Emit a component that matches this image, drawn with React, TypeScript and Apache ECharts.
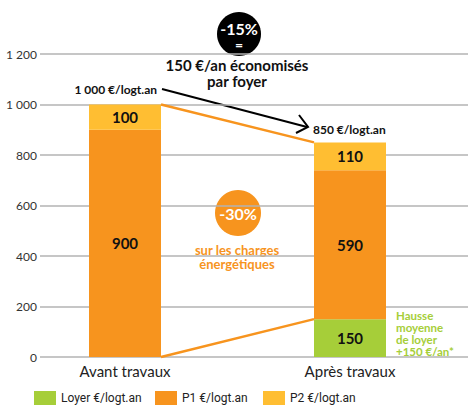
import React, { useEffect, useRef } from "react";
import * as echarts from "echarts";

const categories = ["Avant travaux", "Après travaux"];
const loyer: (number | null)[] = [null, 150];
const p1 = [900, 590];
const p2 = [100, 110];
const yTicks = [0, 200, 400, 600, 800, 1000, 1200];
const seriesNames = ["Loyer €/logt.an", "P1 €/logt.an", "P2 €/logt.an"];
const loyerNote = ["Hausse", "moyenne", "de loyer", "+150 €/an*"];

const GREEN = "#A6CE39";
const ORANGE = "#F7941E";
const YELLOW = "#FFBE32";
const BAR_W = 72;
const LEGEND_X = [34, 155, 263];

const totals = categories.map((_, i) => (loyer[i] || 0) + p1[i] + p2[i]);
const fmt = (v: number) => String(v).replace(/\B(?=(\d{3})+(?!\d))/g, " ");

export default function App() {
  const ref = useRef<HTMLDivElement>(null);
  useEffect(() => {
    if (!ref.current) return;
    document.body.style.margin = "0";
    const chart = echarts.init(ref.current, undefined, { renderer: "svg" });
    const font = "Lato, 'Open Sans', sans-serif";
    const barLabel = {
      show: true,
      position: "inside",
      color: "#111",
      fontWeight: "bold",
      fontSize: 15,
      fontFamily: font,
    };
    const connectors = [
      [0, totals[0], totals[1]],
      [0, 0, loyer[1] || 0],
    ];
    chart.setOption({
      animation: false,
      grid: [
        { left: 40, right: 0, top: 54, bottom: 49 },
        { left: 12.5, right: 5.5, top: 54, bottom: 49 },
      ],
      xAxis: [
        { type: "value", gridIndex: 0, min: 0, max: 1, show: false },
        {
          type: "category",
          gridIndex: 1,
          data: categories,
          axisLine: { show: false },
          axisTick: { show: false },
          axisLabel: { fontSize: 15, color: "#222", fontFamily: font, margin: 6 },
        },
      ],
      yAxis: [
        {
          type: "value",
          gridIndex: 0,
          min: yTicks[0],
          max: yTicks[yTicks.length - 1],
          interval: 200,
          axisLine: { show: false },
          axisTick: { show: false },
          axisLabel: {
            fontSize: 12,
            color: "#333",
            fontFamily: font,
            margin: 3,
            formatter: (v: number) => fmt(v),
          },
          splitLine: { lineStyle: { color: "#b3b3b3", width: 1.5 } },
        },
        {
          type: "value",
          gridIndex: 1,
          min: yTicks[0],
          max: yTicks[yTicks.length - 1],
          show: false,
          splitLine: { show: false },
        },
      ],
      legend: seriesNames.map((n, i) => ({
        left: LEGEND_X[i],
        top: 386,
        padding: [5, 0, 0, 0],
        itemWidth: 22,
        itemHeight: 14,
        itemGap: 5,
        icon: "rect",
        textStyle: {
          fontSize: 12,
          color: "#222",
          padding: [1, 0, 0, 0],
          fontFamily: "'Liberation Sans Narrow', 'Roboto', sans-serif",
        },
        data: [n],
      })),
      series: [
        {
          name: seriesNames[0],
          type: "bar",
          stack: "t",
          xAxisIndex: 1,
          yAxisIndex: 1,
          barWidth: BAR_W,
          data: loyer.map((v) => (v == null ? "-" : v)),
          itemStyle: { color: GREEN },
          label: barLabel,
        },
        {
          name: seriesNames[1],
          type: "bar",
          stack: "t",
          xAxisIndex: 1,
          yAxisIndex: 1,
          barWidth: BAR_W,
          data: p1,
          itemStyle: { color: ORANGE },
          label: barLabel,
        },
        {
          name: seriesNames[2],
          type: "bar",
          stack: "t",
          xAxisIndex: 1,
          yAxisIndex: 1,
          barWidth: BAR_W,
          data: p2,
          itemStyle: { color: YELLOW },
          label: barLabel,
        },
        {
          type: "custom",
          xAxisIndex: 1,
          yAxisIndex: 1,
          z: 3,
          encode: { x: 0, y: [1, 2] },
          data: connectors,
          renderItem: (_p: any, api: any) => {
            const a = api.coord([0, api.value(1)]);
            const b = api.coord([1, api.value(2)]);
            return {
              type: "line",
              shape: { x1: a[0] + BAR_W / 2, y1: a[1], x2: b[0] - BAR_W / 2, y2: b[1] },
              style: { stroke: ORANGE, lineWidth: 2.5 },
            };
          },
        },
      ],
      graphic: [
        { type: "circle", shape: { cx: 239, cy: 34, r: 22 }, style: { fill: "#000" } },
        {
          type: "text",
          x: 239,
          y: 28,
          style: { text: "-15%", fill: "#fff", font: `bold 16px ${font}`, align: "center", verticalAlign: "middle" },
        },
        {
          type: "text",
          x: 239,
          y: 44,
          style: { text: "=", fill: "#fff", font: `bold 14px ${font}`, align: "center", verticalAlign: "middle" },
        },
        {
          type: "text",
          x: 237,
          y: 65,
          style: { text: "150 €/an économisés", fill: "#111", font: `bold 15px ${font}`, align: "center", verticalAlign: "middle" },
        },
        {
          type: "text",
          x: 237,
          y: 81,
          style: { text: "par foyer", fill: "#111", font: `bold 15px ${font}`, align: "center", verticalAlign: "middle" },
        },
        {
          type: "text",
          x: 157,
          y: 89,
          style: { text: fmt(totals[0]) + " €/logt.an", fill: "#111", font: `bold 12px ${font}`, align: "right", verticalAlign: "middle" },
        },
        {
          type: "polyline",
          shape: { points: [[162, 89], [307, 127]] },
          style: { stroke: "#000", lineWidth: 2, fill: null },
        },
        {
          type: "polyline",
          shape: { points: [[299, 115], [308, 127], [296, 133]] },
          style: { stroke: "#000", lineWidth: 2, fill: null },
        },
        {
          type: "text",
          x: 313,
          y: 129,
          style: { text: fmt(totals[1]) + " €/logt.an", fill: "#111", font: `bold 12px ${font}`, align: "left", verticalAlign: "middle" },
        },
        { type: "circle", shape: { cx: 238, cy: 213, r: 23 }, style: { fill: ORANGE } },
        {
          type: "text",
          x: 238,
          y: 213,
          style: { text: "-30%", fill: "#fff", font: `bold 16px ${font}`, align: "center", verticalAlign: "middle" },
        },
        {
          type: "text",
          x: 237,
          y: 250,
          style: { text: "sur les charges", fill: ORANGE, font: `bold 13px ${font}`, align: "center", verticalAlign: "middle" },
        },
        {
          type: "text",
          x: 237,
          y: 264,
          style: { text: "énergétiques", fill: ORANGE, font: `bold 13px ${font}`, align: "center", verticalAlign: "middle" },
        },
        ...loyerNote.map((t, i) => ({
          type: "text",
          x: 396,
          y: 315 + i * 12.3,
          style: { text: t, fill: GREEN, font: `bold 11.5px ${font}`, align: "left", verticalAlign: "middle" },
        })),
      ],
    });
    return () => chart.dispose();
  }, []);
  return <div ref={ref} style={{ width: 468, height: 406 }} />;
}
